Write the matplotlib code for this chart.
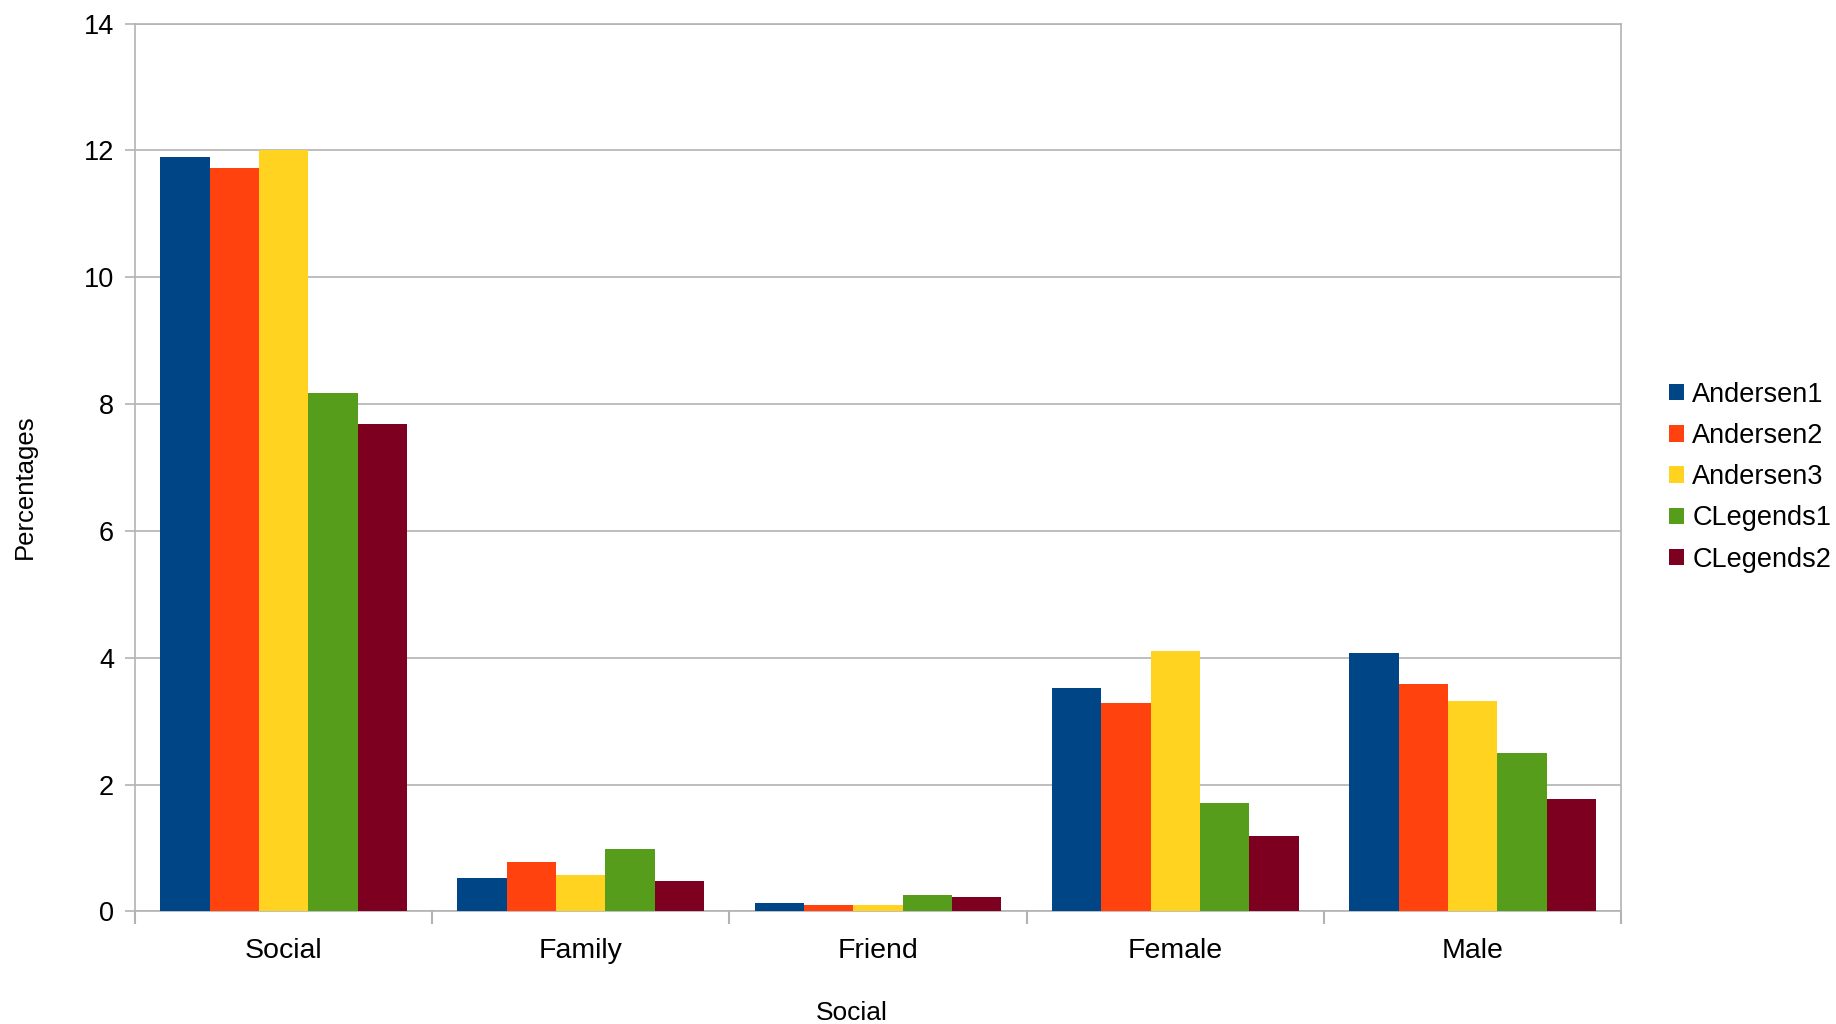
import matplotlib
matplotlib.use("Agg")
import matplotlib.pyplot as plt
import numpy as np

plt.rcParams['font.family'] = ['Liberation Sans', 'DejaVu Sans']

categories = ["Social", "Family", "Friend", "Female", "Male"]
series_names = ["Andersen1", "Andersen2", "Andersen3", "CLegends1", "CLegends2"]
andersen1 = [11.90, 0.53, 0.13, 3.52, 4.08]
andersen2 = [11.73, 0.78, 0.105, 3.28, 3.59]
andersen3 = [12.01, 0.58, 0.10, 4.10, 3.32]
clegends1 = [8.17, 0.98, 0.26, 1.71, 2.49]
clegends2 = [7.69, 0.48, 0.23, 1.19, 1.77]
y_ticks = [0, 2, 4, 6, 8, 10, 12, 14]

series = [andersen1, andersen2, andersen3, clegends1, clegends2]
colors = ["#004586", "#ff420e", "#ffd320", "#579d1c", "#7e0021"]

fig = plt.figure(figsize=(18.36, 10.24), dpi=100)
ax = fig.add_axes([0.0735, 0.110, 0.8095, 0.867])

x = np.arange(len(categories))
group_w = 0.83
bw = group_w / len(series)
for i, (vals, name, c) in enumerate(zip(series, series_names, colors)):
    ax.bar(x - group_w / 2 + bw * (i + 0.5), vals, width=bw, color=c, label=name, zorder=3)

ax.set_xlim(-0.5, len(categories) - 0.5)
ax.set_ylim(0, 14)
ax.set_yticks(y_ticks)
ax.set_yticklabels([str(t) for t in y_ticks], fontsize=19.5)
ax.yaxis.grid(True, color="#b3b3b3", linewidth=1.2, zorder=0)
ax.set_xticks(x)
ax.set_xticklabels(categories, fontsize=20.5)
ax.set_xticks(np.arange(-0.5, len(categories)), minor=True)
ax.tick_params(axis='x', which='major', length=0, pad=19)
ax.tick_params(axis='x', which='minor', length=9, color="#b3b3b3", width=1.5)
ax.tick_params(axis='y', length=7, color="#b3b3b3", width=1.2, pad=8)
for s in ax.spines.values():
    s.set_color("#b3b3b3")
    s.set_linewidth(1.2)

ax.set_xlabel("Social", fontsize=19)
ax.set_ylabel("Percentages", fontsize=18.5)
ax.xaxis.set_label_coords(0.482, -0.101)
ax.yaxis.set_label_coords(-0.066, 0.478)

leg = fig.legend(loc="center left", bbox_to_anchor=(0.9092, 0.534),
                 frameon=False, fontsize=19.5, handlelength=0.55, handleheight=0.55,
                 handletextpad=0.3, labelspacing=0.56, borderpad=0, borderaxespad=0)

fig.savefig("out.png", dpi=100)
